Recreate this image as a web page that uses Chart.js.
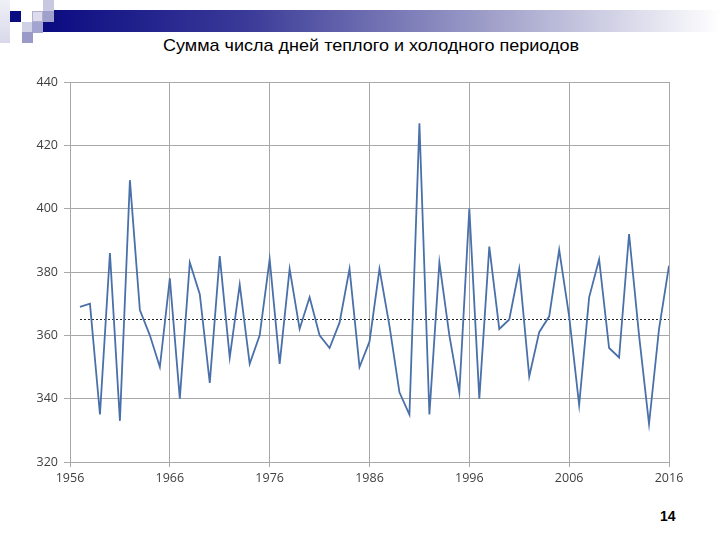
<!DOCTYPE html>
<html>
<head>
<meta charset="utf-8">
<script src="https://cdn.jsdelivr.net/npm/chart.js@4/dist/chart.umd.min.js"></script>
<style>
  body { margin: 0; width: 720px; height: 540px; background: #fff; position: relative; overflow: hidden; font-family: "Liberation Sans", Arial, sans-serif; }
  .bar { position: absolute; left: 43px; top: 10px; width: 677px; height: 22px;
         background: linear-gradient(to right, #0b0b82 0%, #3a3a98 30%, #9c9cc8 65%, #ffffff 100%); }
  .sq { position: absolute; width: 11px; height: 11px; }
  .title { position: absolute; top: 36px; left: 0; width: 742px; text-align: center; font-size: 17px; color: #000; transform: scaleX(1.06); transform-origin: 371px 0; }
  .page { position: absolute; left: 660px; top: 508px; font-size: 14px; font-weight: bold; color: #000; }
  #wrap { position: absolute; left: 0; top: 60px; width: 720px; height: 440px; }
</style>
</head>
<body>
<div class="bar"></div>
<div class="sq" style="left:0;top:0;width:10px;height:43px;background:linear-gradient(#f0f0f8,#d8d8ea)"></div>
<div class="sq" style="left:10px;top:11px;background:#0b0b82"></div>
<div class="sq" style="left:43px;top:0;background:#c8c8e0"></div>
<div class="sq" style="left:32px;top:11px;background:#dcdcec;border:1px solid #b0b0d0;width:9px;height:9px"></div>
<div class="sq" style="left:43px;top:11px;background:#a0a0cc"></div>
<div class="sq" style="left:22px;top:22px;background:#d0d0e6"></div>
<div class="sq" style="left:32px;top:22px;background:#a4a4d0"></div>
<div class="sq" style="left:22px;top:32px;background:#9a9ac8"></div>
<div class="title">Сумма числа дней теплого и холодного периодов</div>
<div id="wrap"><canvas id="chart"></canvas></div>
<div class="page">14</div>
<script>
const years = [];
for (let y = 1957; y <= 2016; y++) years.push(y);
const days = [
  369, 370, 335, 386, 333, 409, 368, 360, 350, 378,
  340, 383, 373, 345, 385, 353, 376, 351, 360, 384,
  351, 381, 362, 372, 360, 356, 364, 381, 350, 358,
  381, 363, 342, 335, 427, 335, 383, 360, 342, 400,
  340, 388, 362, 365, 381, 347, 361, 366, 387, 366,
  338, 372, 384, 356, 353, 392, 360, 332, 362, 382
];
const meanLevel = 365;
const xTicks = [1956, 1966, 1976, 1986, 1996, 2006, 2016];

const tickFont = { family: "'Open Sans', 'Liberation Sans', sans-serif", size: 12.5 };

new Chart(document.getElementById('chart'), {
  type: 'line',
  data: {
    datasets: [
      {
        data: years.map((y, i) => ({ x: y, y: days[i] })),
        borderColor: '#4a70aa', borderWidth: 1.8, pointRadius: 0, tension: 0
      },
      {
        data: [{ x: years[0], y: meanLevel }, { x: years[years.length - 1], y: meanLevel }],
        borderColor: '#222', borderWidth: 1, borderDash: [2, 2], pointRadius: 0
      }
    ]
  },
  options: {
    responsive: true, maintainAspectRatio: false, animation: false,
    layout: { padding: { left: 0, right: 51, top: 22, bottom: 0 } },
    plugins: { legend: { display: false }, tooltip: { enabled: false } },
    scales: {
      x: {
        type: 'linear', min: 1956, max: 2016,
        afterBuildTicks: s => { s.ticks = xTicks.map(v => ({ value: v })); },
        afterFit: s => { s.height = 38; },
        grid: { color: '#a8a8a8', tickLength: 5 },
        border: { color: '#a8a8a8' },
        ticks: { color: '#404040', font: tickFont, padding: 4, maxRotation: 0, callback: v => String(v) }
      },
      y: {
        min: 320, max: 440,
        afterFit: s => { s.width = 70; },
        grid: { color: '#a8a8a8', tickLength: 6 },
        border: { color: '#a8a8a8' },
        ticks: { stepSize: 20, color: '#404040', font: tickFont, padding: 6 }
      }
    }
  }
});
</script>
</body>
</html>
